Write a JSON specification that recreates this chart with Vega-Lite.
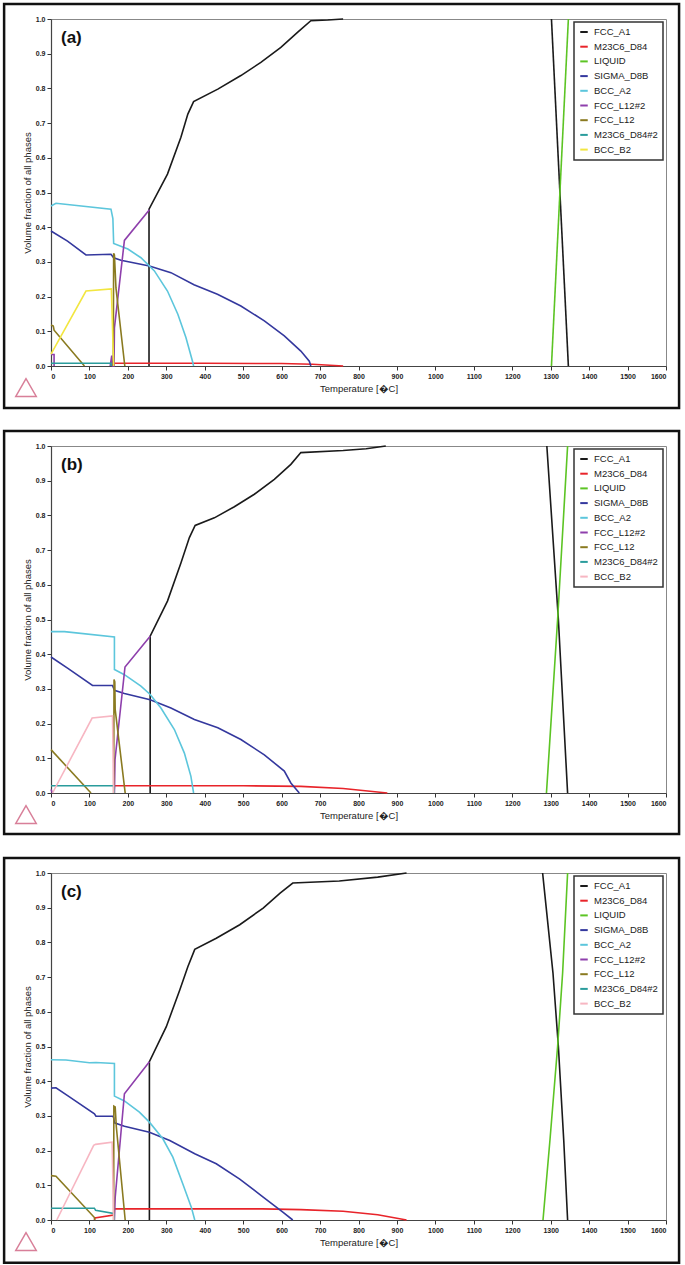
{
  "$schema": "https://vega.github.io/schema/vega-lite/v6.json",
  "padding": {"left": 2, "top": 2, "right": 2, "bottom": 2},
  "bounds": "flush",
  "spacing": 80,
  "background": "white",
  "config": {
    "font": "Liberation Sans",
    "view": {"stroke": "#888", "strokeWidth": 1},
    "axis": {"grid": false, "domainColor": "#444", "domainWidth": 1.2, "tickColor": "#333", "tickSize": 4, "labelFontSize": 7, "labelFontWeight": "bold", "labelColor": "#222", "titleFontSize": 9.5, "titleFontWeight": "normal", "titleColor": "#222", "labelPadding": 2},
    "legend": {"title": null, "orient": "top-right", "offset": 3, "padding": 5, "strokeColor": "#333", "strokeWidth": 1.5, "fillColor": "white", "symbolType": "stroke", "symbolStrokeWidth": 2, "symbolSize": 56, "labelFontSize": 9.5, "labelColor": "#222", "rowPadding": 4.7, "labelOffset": 5, "labelLimit": 200}
  },
  "resolve": {"scale": {"color": "independent"}, "legend": {"color": "independent"}},
  "datasets": {
    "a": [
      {"ph": "FCC_A1", "sg": 1, "T": 255, "f": 0}, {"ph": "FCC_A1", "sg": 1, "T": 255, "f": 0.452}, {"ph": "FCC_A1", "sg": 1, "T": 303, "f": 0.553}, {"ph": "FCC_A1", "sg": 1, "T": 338, "f": 0.659}, {"ph": "FCC_A1", "sg": 1, "T": 356, "f": 0.726}, {"ph": "FCC_A1", "sg": 1, "T": 371, "f": 0.762}, {"ph": "FCC_A1", "sg": 1, "T": 434, "f": 0.798}, {"ph": "FCC_A1", "sg": 1, "T": 494, "f": 0.837}, {"ph": "FCC_A1", "sg": 1, "T": 546, "f": 0.875}, {"ph": "FCC_A1", "sg": 1, "T": 598, "f": 0.918}, {"ph": "FCC_A1", "sg": 1, "T": 642, "f": 0.962}, {"ph": "FCC_A1", "sg": 1, "T": 676, "f": 0.995}, {"ph": "FCC_A1", "sg": 1, "T": 720, "f": 0.997}, {"ph": "FCC_A1", "sg": 1, "T": 760, "f": 1.0},
      {"ph": "FCC_A1", "sg": 2, "T": 1302, "f": 1.0}, {"ph": "FCC_A1", "sg": 2, "T": 1346, "f": 0},
      {"ph": "M23C6_D84", "sg": 1, "T": 163, "f": 0}, {"ph": "M23C6_D84", "sg": 1, "T": 164, "f": 0.008}, {"ph": "M23C6_D84", "sg": 1, "T": 400, "f": 0.008}, {"ph": "M23C6_D84", "sg": 1, "T": 600, "f": 0.007}, {"ph": "M23C6_D84", "sg": 1, "T": 680, "f": 0.005}, {"ph": "M23C6_D84", "sg": 1, "T": 760, "f": 0},
      {"ph": "LIQUID", "sg": 1, "T": 1302, "f": 0}, {"ph": "LIQUID", "sg": 1, "T": 1346, "f": 1.0},
      {"ph": "SIGMA_D8B", "sg": 1, "T": 0, "f": 0.389}, {"ph": "SIGMA_D8B", "sg": 1, "T": 43, "f": 0.36}, {"ph": "SIGMA_D8B", "sg": 1, "T": 91, "f": 0.32}, {"ph": "SIGMA_D8B", "sg": 1, "T": 156, "f": 0.322}, {"ph": "SIGMA_D8B", "sg": 1, "T": 163, "f": 0.312}, {"ph": "SIGMA_D8B", "sg": 1, "T": 182, "f": 0.305}, {"ph": "SIGMA_D8B", "sg": 1, "T": 256, "f": 0.288}, {"ph": "SIGMA_D8B", "sg": 1, "T": 312, "f": 0.269}, {"ph": "SIGMA_D8B", "sg": 1, "T": 372, "f": 0.234}, {"ph": "SIGMA_D8B", "sg": 1, "T": 433, "f": 0.207}, {"ph": "SIGMA_D8B", "sg": 1, "T": 494, "f": 0.173}, {"ph": "SIGMA_D8B", "sg": 1, "T": 555, "f": 0.13}, {"ph": "SIGMA_D8B", "sg": 1, "T": 607, "f": 0.087}, {"ph": "SIGMA_D8B", "sg": 1, "T": 650, "f": 0.043}, {"ph": "SIGMA_D8B", "sg": 1, "T": 672, "f": 0.014}, {"ph": "SIGMA_D8B", "sg": 1, "T": 676, "f": 0},
      {"ph": "BCC_A2", "sg": 1, "T": 0, "f": 0.461}, {"ph": "BCC_A2", "sg": 1, "T": 13, "f": 0.469}, {"ph": "BCC_A2", "sg": 1, "T": 156, "f": 0.452}, {"ph": "BCC_A2", "sg": 1, "T": 161, "f": 0.425}, {"ph": "BCC_A2", "sg": 1, "T": 163, "f": 0.353}, {"ph": "BCC_A2", "sg": 1, "T": 200, "f": 0.337}, {"ph": "BCC_A2", "sg": 1, "T": 234, "f": 0.312}, {"ph": "BCC_A2", "sg": 1, "T": 269, "f": 0.274}, {"ph": "BCC_A2", "sg": 1, "T": 303, "f": 0.216}, {"ph": "BCC_A2", "sg": 1, "T": 330, "f": 0.149}, {"ph": "BCC_A2", "sg": 1, "T": 351, "f": 0.082}, {"ph": "BCC_A2", "sg": 1, "T": 369, "f": 0.01}, {"ph": "BCC_A2", "sg": 1, "T": 371, "f": 0},
      {"ph": "FCC_L12#2", "sg": 1, "T": 0, "f": 0.033}, {"ph": "FCC_L12#2", "sg": 1, "T": 8, "f": 0.033}, {"ph": "FCC_L12#2", "sg": 1, "T": 8, "f": 0},
      {"ph": "FCC_L12#2", "sg": 2, "T": 154, "f": 0}, {"ph": "FCC_L12#2", "sg": 2, "T": 158, "f": 0.03}, {"ph": "FCC_L12#2", "sg": 2, "T": 160, "f": 0}, {"ph": "FCC_L12#2", "sg": 2, "T": 164, "f": 0}, {"ph": "FCC_L12#2", "sg": 2, "T": 165, "f": 0.11}, {"ph": "FCC_L12#2", "sg": 2, "T": 191, "f": 0.362}, {"ph": "FCC_L12#2", "sg": 2, "T": 256, "f": 0.45},
      {"ph": "FCC_L12", "sg": 1, "T": 0, "f": 0.118}, {"ph": "FCC_L12", "sg": 1, "T": 6, "f": 0.115}, {"ph": "FCC_L12", "sg": 1, "T": 8, "f": 0.103}, {"ph": "FCC_L12", "sg": 1, "T": 87, "f": 0},
      {"ph": "FCC_L12", "sg": 2, "T": 162, "f": 0}, {"ph": "FCC_L12", "sg": 2, "T": 163, "f": 0.325}, {"ph": "FCC_L12", "sg": 2, "T": 165, "f": 0.32}, {"ph": "FCC_L12", "sg": 2, "T": 169, "f": 0.225}, {"ph": "FCC_L12", "sg": 2, "T": 192, "f": 0},
      {"ph": "M23C6_D84#2", "sg": 1, "T": 0, "f": 0.008}, {"ph": "M23C6_D84#2", "sg": 1, "T": 156, "f": 0.008}, {"ph": "M23C6_D84#2", "sg": 1, "T": 157, "f": 0},
      {"ph": "BCC_B2", "sg": 1, "T": 0, "f": 0.034}, {"ph": "BCC_B2", "sg": 1, "T": 91, "f": 0.216}, {"ph": "BCC_B2", "sg": 1, "T": 157, "f": 0.222}, {"ph": "BCC_B2", "sg": 1, "T": 163, "f": 0}
    ],
    "b": [
      {"ph": "FCC_A1", "sg": 1, "T": 258, "f": 0}, {"ph": "FCC_A1", "sg": 1, "T": 258, "f": 0.452}, {"ph": "FCC_A1", "sg": 1, "T": 303, "f": 0.553}, {"ph": "FCC_A1", "sg": 1, "T": 338, "f": 0.663}, {"ph": "FCC_A1", "sg": 1, "T": 360, "f": 0.736}, {"ph": "FCC_A1", "sg": 1, "T": 375, "f": 0.771}, {"ph": "FCC_A1", "sg": 1, "T": 425, "f": 0.793}, {"ph": "FCC_A1", "sg": 1, "T": 477, "f": 0.825}, {"ph": "FCC_A1", "sg": 1, "T": 529, "f": 0.861}, {"ph": "FCC_A1", "sg": 1, "T": 581, "f": 0.904}, {"ph": "FCC_A1", "sg": 1, "T": 624, "f": 0.947}, {"ph": "FCC_A1", "sg": 1, "T": 650, "f": 0.981}, {"ph": "FCC_A1", "sg": 1, "T": 760, "f": 0.987}, {"ph": "FCC_A1", "sg": 1, "T": 820, "f": 0.992}, {"ph": "FCC_A1", "sg": 1, "T": 871, "f": 1.0},
      {"ph": "FCC_A1", "sg": 2, "T": 1290, "f": 1.0}, {"ph": "FCC_A1", "sg": 2, "T": 1320, "f": 0.5}, {"ph": "FCC_A1", "sg": 2, "T": 1344, "f": 0},
      {"ph": "M23C6_D84", "sg": 1, "T": 164, "f": 0}, {"ph": "M23C6_D84", "sg": 1, "T": 165, "f": 0.021}, {"ph": "M23C6_D84", "sg": 1, "T": 500, "f": 0.021}, {"ph": "M23C6_D84", "sg": 1, "T": 650, "f": 0.019}, {"ph": "M23C6_D84", "sg": 1, "T": 760, "f": 0.013}, {"ph": "M23C6_D84", "sg": 1, "T": 875, "f": 0},
      {"ph": "LIQUID", "sg": 1, "T": 1289, "f": 0}, {"ph": "LIQUID", "sg": 1, "T": 1318, "f": 0.5}, {"ph": "LIQUID", "sg": 1, "T": 1344, "f": 1.0},
      {"ph": "SIGMA_D8B", "sg": 1, "T": 0, "f": 0.392}, {"ph": "SIGMA_D8B", "sg": 1, "T": 43, "f": 0.36}, {"ph": "SIGMA_D8B", "sg": 1, "T": 108, "f": 0.31}, {"ph": "SIGMA_D8B", "sg": 1, "T": 160, "f": 0.31}, {"ph": "SIGMA_D8B", "sg": 1, "T": 165, "f": 0.296}, {"ph": "SIGMA_D8B", "sg": 1, "T": 191, "f": 0.287}, {"ph": "SIGMA_D8B", "sg": 1, "T": 258, "f": 0.269}, {"ph": "SIGMA_D8B", "sg": 1, "T": 312, "f": 0.245}, {"ph": "SIGMA_D8B", "sg": 1, "T": 373, "f": 0.212}, {"ph": "SIGMA_D8B", "sg": 1, "T": 434, "f": 0.188}, {"ph": "SIGMA_D8B", "sg": 1, "T": 494, "f": 0.154}, {"ph": "SIGMA_D8B", "sg": 1, "T": 555, "f": 0.11}, {"ph": "SIGMA_D8B", "sg": 1, "T": 607, "f": 0.063}, {"ph": "SIGMA_D8B", "sg": 1, "T": 624, "f": 0.029}, {"ph": "SIGMA_D8B", "sg": 1, "T": 646, "f": 0},
      {"ph": "BCC_A2", "sg": 1, "T": 0, "f": 0.465}, {"ph": "BCC_A2", "sg": 1, "T": 35, "f": 0.465}, {"ph": "BCC_A2", "sg": 1, "T": 165, "f": 0.45}, {"ph": "BCC_A2", "sg": 1, "T": 165, "f": 0.356}, {"ph": "BCC_A2", "sg": 1, "T": 191, "f": 0.341}, {"ph": "BCC_A2", "sg": 1, "T": 234, "f": 0.308}, {"ph": "BCC_A2", "sg": 1, "T": 258, "f": 0.284}, {"ph": "BCC_A2", "sg": 1, "T": 286, "f": 0.245}, {"ph": "BCC_A2", "sg": 1, "T": 321, "f": 0.183}, {"ph": "BCC_A2", "sg": 1, "T": 347, "f": 0.115}, {"ph": "BCC_A2", "sg": 1, "T": 364, "f": 0.048}, {"ph": "BCC_A2", "sg": 1, "T": 371, "f": 0},
      {"ph": "FCC_L12#2", "sg": 1, "T": 0, "f": 0.01}, {"ph": "FCC_L12#2", "sg": 1, "T": 4, "f": 0},
      {"ph": "FCC_L12#2", "sg": 2, "T": 165, "f": 0}, {"ph": "FCC_L12#2", "sg": 2, "T": 166.5, "f": 0.096}, {"ph": "FCC_L12#2", "sg": 2, "T": 192.5, "f": 0.363}, {"ph": "FCC_L12#2", "sg": 2, "T": 258, "f": 0.452},
      {"ph": "FCC_L12", "sg": 1, "T": 0, "f": 0.125}, {"ph": "FCC_L12", "sg": 1, "T": 104, "f": 0},
      {"ph": "FCC_L12", "sg": 2, "T": 163, "f": 0}, {"ph": "FCC_L12", "sg": 2, "T": 164, "f": 0.327}, {"ph": "FCC_L12", "sg": 2, "T": 166, "f": 0.32}, {"ph": "FCC_L12", "sg": 2, "T": 167, "f": 0.24}, {"ph": "FCC_L12", "sg": 2, "T": 193, "f": 0},
      {"ph": "M23C6_D84#2", "sg": 1, "T": 0, "f": 0.021}, {"ph": "M23C6_D84#2", "sg": 1, "T": 163, "f": 0.021}, {"ph": "M23C6_D84#2", "sg": 1, "T": 164, "f": 0},
      {"ph": "BCC_B2", "sg": 1, "T": 4, "f": 0}, {"ph": "BCC_B2", "sg": 1, "T": 107, "f": 0.216}, {"ph": "BCC_B2", "sg": 1, "T": 160, "f": 0.222}, {"ph": "BCC_B2", "sg": 1, "T": 163, "f": 0}
    ],
    "c": [
      {"ph": "FCC_A1", "sg": 1, "T": 256, "f": 0}, {"ph": "FCC_A1", "sg": 1, "T": 256, "f": 0.456}, {"ph": "FCC_A1", "sg": 1, "T": 300, "f": 0.557}, {"ph": "FCC_A1", "sg": 1, "T": 335, "f": 0.663}, {"ph": "FCC_A1", "sg": 1, "T": 356, "f": 0.73}, {"ph": "FCC_A1", "sg": 1, "T": 374, "f": 0.78}, {"ph": "FCC_A1", "sg": 1, "T": 430, "f": 0.812}, {"ph": "FCC_A1", "sg": 1, "T": 491, "f": 0.851}, {"ph": "FCC_A1", "sg": 1, "T": 552, "f": 0.899}, {"ph": "FCC_A1", "sg": 1, "T": 596, "f": 0.942}, {"ph": "FCC_A1", "sg": 1, "T": 629, "f": 0.971}, {"ph": "FCC_A1", "sg": 1, "T": 750, "f": 0.977}, {"ph": "FCC_A1", "sg": 1, "T": 850, "f": 0.988}, {"ph": "FCC_A1", "sg": 1, "T": 925, "f": 1.0},
      {"ph": "FCC_A1", "sg": 2, "T": 1279, "f": 1.0}, {"ph": "FCC_A1", "sg": 2, "T": 1288, "f": 0.904}, {"ph": "FCC_A1", "sg": 2, "T": 1306, "f": 0.711}, {"ph": "FCC_A1", "sg": 2, "T": 1320, "f": 0.5}, {"ph": "FCC_A1", "sg": 2, "T": 1334, "f": 0.229}, {"ph": "FCC_A1", "sg": 2, "T": 1344, "f": 0},
      {"ph": "M23C6_D84", "sg": 1, "T": 113, "f": 0}, {"ph": "M23C6_D84", "sg": 1, "T": 114, "f": 0.006}, {"ph": "M23C6_D84", "sg": 1, "T": 163, "f": 0.014}, {"ph": "M23C6_D84", "sg": 1, "T": 164, "f": 0.032}, {"ph": "M23C6_D84", "sg": 1, "T": 550, "f": 0.032}, {"ph": "M23C6_D84", "sg": 1, "T": 650, "f": 0.03}, {"ph": "M23C6_D84", "sg": 1, "T": 760, "f": 0.025}, {"ph": "M23C6_D84", "sg": 1, "T": 850, "f": 0.015}, {"ph": "M23C6_D84", "sg": 1, "T": 925, "f": 0},
      {"ph": "LIQUID", "sg": 1, "T": 1280, "f": 0}, {"ph": "LIQUID", "sg": 1, "T": 1298, "f": 0.229}, {"ph": "LIQUID", "sg": 1, "T": 1318, "f": 0.5}, {"ph": "LIQUID", "sg": 1, "T": 1331, "f": 0.711}, {"ph": "LIQUID", "sg": 1, "T": 1344, "f": 1.0},
      {"ph": "SIGMA_D8B", "sg": 1, "T": 0, "f": 0.38}, {"ph": "SIGMA_D8B", "sg": 1, "T": 13, "f": 0.381}, {"ph": "SIGMA_D8B", "sg": 1, "T": 48, "f": 0.355}, {"ph": "SIGMA_D8B", "sg": 1, "T": 113, "f": 0.306}, {"ph": "SIGMA_D8B", "sg": 1, "T": 117, "f": 0.299}, {"ph": "SIGMA_D8B", "sg": 1, "T": 161, "f": 0.299}, {"ph": "SIGMA_D8B", "sg": 1, "T": 163, "f": 0.295}, {"ph": "SIGMA_D8B", "sg": 1, "T": 165, "f": 0.28}, {"ph": "SIGMA_D8B", "sg": 1, "T": 191, "f": 0.27}, {"ph": "SIGMA_D8B", "sg": 1, "T": 256, "f": 0.253}, {"ph": "SIGMA_D8B", "sg": 1, "T": 309, "f": 0.229}, {"ph": "SIGMA_D8B", "sg": 1, "T": 374, "f": 0.191}, {"ph": "SIGMA_D8B", "sg": 1, "T": 430, "f": 0.162}, {"ph": "SIGMA_D8B", "sg": 1, "T": 491, "f": 0.118}, {"ph": "SIGMA_D8B", "sg": 1, "T": 552, "f": 0.066}, {"ph": "SIGMA_D8B", "sg": 1, "T": 604, "f": 0.022}, {"ph": "SIGMA_D8B", "sg": 1, "T": 629, "f": 0},
      {"ph": "BCC_A2", "sg": 1, "T": 0, "f": 0.462}, {"ph": "BCC_A2", "sg": 1, "T": 39, "f": 0.461}, {"ph": "BCC_A2", "sg": 1, "T": 100, "f": 0.453}, {"ph": "BCC_A2", "sg": 1, "T": 117, "f": 0.454}, {"ph": "BCC_A2", "sg": 1, "T": 165, "f": 0.451}, {"ph": "BCC_A2", "sg": 1, "T": 165, "f": 0.357}, {"ph": "BCC_A2", "sg": 1, "T": 191, "f": 0.343}, {"ph": "BCC_A2", "sg": 1, "T": 230, "f": 0.311}, {"ph": "BCC_A2", "sg": 1, "T": 256, "f": 0.282}, {"ph": "BCC_A2", "sg": 1, "T": 291, "f": 0.234}, {"ph": "BCC_A2", "sg": 1, "T": 317, "f": 0.181}, {"ph": "BCC_A2", "sg": 1, "T": 343, "f": 0.104}, {"ph": "BCC_A2", "sg": 1, "T": 365, "f": 0.037}, {"ph": "BCC_A2", "sg": 1, "T": 374, "f": 0},
      {"ph": "FCC_L12#2", "sg": 1, "T": 165, "f": 0}, {"ph": "FCC_L12#2", "sg": 1, "T": 167, "f": 0.065}, {"ph": "FCC_L12#2", "sg": 1, "T": 191, "f": 0.364}, {"ph": "FCC_L12#2", "sg": 1, "T": 256, "f": 0.456},
      {"ph": "FCC_L12", "sg": 1, "T": 0, "f": 0.128}, {"ph": "FCC_L12", "sg": 1, "T": 13, "f": 0.126}, {"ph": "FCC_L12", "sg": 1, "T": 113, "f": 0.007}, {"ph": "FCC_L12", "sg": 1, "T": 114, "f": 0},
      {"ph": "FCC_L12", "sg": 2, "T": 163, "f": 0}, {"ph": "FCC_L12", "sg": 2, "T": 163.5, "f": 0.328}, {"ph": "FCC_L12", "sg": 2, "T": 167, "f": 0.326}, {"ph": "FCC_L12", "sg": 2, "T": 170, "f": 0.268}, {"ph": "FCC_L12", "sg": 2, "T": 193, "f": 0},
      {"ph": "M23C6_D84#2", "sg": 1, "T": 0, "f": 0.034}, {"ph": "M23C6_D84#2", "sg": 1, "T": 113, "f": 0.034}, {"ph": "M23C6_D84#2", "sg": 1, "T": 116, "f": 0.028}, {"ph": "M23C6_D84#2", "sg": 1, "T": 163, "f": 0.019}, {"ph": "M23C6_D84#2", "sg": 1, "T": 164, "f": 0},
      {"ph": "BCC_B2", "sg": 1, "T": 15, "f": 0}, {"ph": "BCC_B2", "sg": 1, "T": 111, "f": 0.215}, {"ph": "BCC_B2", "sg": 1, "T": 116, "f": 0.218}, {"ph": "BCC_B2", "sg": 1, "T": 159, "f": 0.224}, {"ph": "BCC_B2", "sg": 1, "T": 163, "f": 0}
    ]
  },
  "vconcat": [
    {
      "width": 615, "height": 347,
      "layer": [
        {"data": {"name": "a"}, "mark": {"type": "line", "strokeWidth": 1.6},
         "encoding": {
           "x": {"field": "T", "type": "quantitative", "scale": {"domain": [0, 1600], "nice": false}, "axis": {"title": "Temperature [\uFFFDC]", "values": [0,100,200,300,400,500,600,700,800,900,1000,1100,1200,1300,1400,1500,1600], "format": "d", "titlePadding": 4}},
           "y": {"field": "f", "type": "quantitative", "scale": {"domain": [0, 1], "nice": false}, "axis": {"title": "Volume fraction of all phases", "values": [0,0.1,0.2,0.3,0.4,0.5,0.6,0.7,0.8,0.9,1.0], "format": ".1f", "titlePadding": 3}},
           "color": {"field": "ph", "type": "nominal", "scale": {"domain": ["FCC_A1","M23C6_D84","LIQUID","SIGMA_D8B","BCC_A2","FCC_L12#2","FCC_L12","M23C6_D84#2","BCC_B2"], "range": ["#1a1a1a","#e8242a","#5cc424","#34389e","#5cc6dc","#8e3fac","#8a7a20","#2a9c9c","#f2e640"]}, "legend": {"orient": "top-right"}},
           "detail": {"field": "sg"},
           "order": {"value": null}
         }},
        {"data": {"values": [{"k": 1}]}, "mark": {"type": "rect", "filled": false, "stroke": "#111", "strokeWidth": 2.5},
         "encoding": {"x": {"datum": -122, "type": "quantitative", "scale": {"domain": [0, 1600], "nice": false}, "axis": {"title": "Temperature [\uFFFDC]", "values": [0,100,200,300,400,500,600,700,800,900,1000,1100,1200,1300,1400,1500,1600], "format": "d", "titlePadding": 4}}, "x2": {"datum": 1634}, "y": {"datum": -0.121, "type": "quantitative", "scale": {"domain": [0, 1], "nice": false}, "axis": {"title": "Volume fraction of all phases", "values": [0,0.1,0.2,0.3,0.4,0.5,0.6,0.7,0.8,0.9,1.0], "format": ".1f", "titlePadding": 3}}, "y2": {"datum": 1.043}}},
        {"data": {"values": [{"k": 1}]}, "mark": {"type": "point", "shape": "triangle-up", "filled": false, "stroke": "#c84a6e", "strokeWidth": 1.5, "size": 420},
         "encoding": {"x": {"datum": -65, "type": "quantitative", "scale": {"domain": [0, 1600], "nice": false}, "axis": {"title": "Temperature [\uFFFDC]", "values": [0,100,200,300,400,500,600,700,800,900,1000,1100,1200,1300,1400,1500,1600], "format": "d", "titlePadding": 4}}, "y": {"datum": -0.062, "type": "quantitative", "scale": {"domain": [0, 1], "nice": false}, "axis": {"title": "Volume fraction of all phases", "values": [0,0.1,0.2,0.3,0.4,0.5,0.6,0.7,0.8,0.9,1.0], "format": ".1f", "titlePadding": 3}}}},
        {"data": {"values": [{"lab": "(a)"}]}, "mark": {"type": "text", "align": "left", "baseline": "middle", "fontSize": 17, "fontWeight": "bold", "color": "#111"},
         "encoding": {"x": {"datum": 26, "type": "quantitative", "scale": {"domain": [0, 1600], "nice": false}, "axis": {"title": "Temperature [\uFFFDC]", "values": [0,100,200,300,400,500,600,700,800,900,1000,1100,1200,1300,1400,1500,1600], "format": "d", "titlePadding": 4}}, "y": {"datum": 0.945, "type": "quantitative", "scale": {"domain": [0, 1], "nice": false}, "axis": {"title": "Volume fraction of all phases", "values": [0,0.1,0.2,0.3,0.4,0.5,0.6,0.7,0.8,0.9,1.0], "format": ".1f", "titlePadding": 3}}, "text": {"field": "lab"}}}
      ]
    },
    {
      "width": 615, "height": 347,
      "layer": [
        {"data": {"name": "b"}, "mark": {"type": "line", "strokeWidth": 1.6},
         "encoding": {
           "x": {"field": "T", "type": "quantitative", "scale": {"domain": [0, 1600], "nice": false}, "axis": {"title": "Temperature [\uFFFDC]", "values": [0,100,200,300,400,500,600,700,800,900,1000,1100,1200,1300,1400,1500,1600], "format": "d", "titlePadding": 4}},
           "y": {"field": "f", "type": "quantitative", "scale": {"domain": [0, 1], "nice": false}, "axis": {"title": "Volume fraction of all phases", "values": [0,0.1,0.2,0.3,0.4,0.5,0.6,0.7,0.8,0.9,1.0], "format": ".1f", "titlePadding": 3}},
           "color": {"field": "ph", "type": "nominal", "scale": {"domain": ["FCC_A1","M23C6_D84","LIQUID","SIGMA_D8B","BCC_A2","FCC_L12#2","FCC_L12","M23C6_D84#2","BCC_B2"], "range": ["#1a1a1a","#e8242a","#5cc424","#34389e","#5cc6dc","#8e3fac","#8a7a20","#2a9c9c","#f7b6c2"]}, "legend": {"orient": "top-right"}},
           "detail": {"field": "sg"},
           "order": {"value": null}
         }},
        {"data": {"values": [{"k": 1}]}, "mark": {"type": "rect", "filled": false, "stroke": "#111", "strokeWidth": 2.5},
         "encoding": {"x": {"datum": -122, "type": "quantitative", "scale": {"domain": [0, 1600], "nice": false}, "axis": {"title": "Temperature [\uFFFDC]", "values": [0,100,200,300,400,500,600,700,800,900,1000,1100,1200,1300,1400,1500,1600], "format": "d", "titlePadding": 4}}, "x2": {"datum": 1634}, "y": {"datum": -0.118, "type": "quantitative", "scale": {"domain": [0, 1], "nice": false}, "axis": {"title": "Volume fraction of all phases", "values": [0,0.1,0.2,0.3,0.4,0.5,0.6,0.7,0.8,0.9,1.0], "format": ".1f", "titlePadding": 3}}, "y2": {"datum": 1.043}}},
        {"data": {"values": [{"k": 1}]}, "mark": {"type": "point", "shape": "triangle-up", "filled": false, "stroke": "#c84a6e", "strokeWidth": 1.5, "size": 420},
         "encoding": {"x": {"datum": -65, "type": "quantitative", "scale": {"domain": [0, 1600], "nice": false}, "axis": {"title": "Temperature [\uFFFDC]", "values": [0,100,200,300,400,500,600,700,800,900,1000,1100,1200,1300,1400,1500,1600], "format": "d", "titlePadding": 4}}, "y": {"datum": -0.062, "type": "quantitative", "scale": {"domain": [0, 1], "nice": false}, "axis": {"title": "Volume fraction of all phases", "values": [0,0.1,0.2,0.3,0.4,0.5,0.6,0.7,0.8,0.9,1.0], "format": ".1f", "titlePadding": 3}}}},
        {"data": {"values": [{"lab": "(b)"}]}, "mark": {"type": "text", "align": "left", "baseline": "middle", "fontSize": 17, "fontWeight": "bold", "color": "#111"},
         "encoding": {"x": {"datum": 26, "type": "quantitative", "scale": {"domain": [0, 1600], "nice": false}, "axis": {"title": "Temperature [\uFFFDC]", "values": [0,100,200,300,400,500,600,700,800,900,1000,1100,1200,1300,1400,1500,1600], "format": "d", "titlePadding": 4}}, "y": {"datum": 0.945, "type": "quantitative", "scale": {"domain": [0, 1], "nice": false}, "axis": {"title": "Volume fraction of all phases", "values": [0,0.1,0.2,0.3,0.4,0.5,0.6,0.7,0.8,0.9,1.0], "format": ".1f", "titlePadding": 3}}, "text": {"field": "lab"}}}
      ]
    },
    {
      "width": 615, "height": 347,
      "layer": [
        {"data": {"name": "c"}, "mark": {"type": "line", "strokeWidth": 1.6},
         "encoding": {
           "x": {"field": "T", "type": "quantitative", "scale": {"domain": [0, 1600], "nice": false}, "axis": {"title": "Temperature [\uFFFDC]", "values": [0,100,200,300,400,500,600,700,800,900,1000,1100,1200,1300,1400,1500,1600], "format": "d", "titlePadding": 4}},
           "y": {"field": "f", "type": "quantitative", "scale": {"domain": [0, 1], "nice": false}, "axis": {"title": "Volume fraction of all phases", "values": [0,0.1,0.2,0.3,0.4,0.5,0.6,0.7,0.8,0.9,1.0], "format": ".1f", "titlePadding": 3}},
           "color": {"field": "ph", "type": "nominal", "scale": {"domain": ["FCC_A1","M23C6_D84","LIQUID","SIGMA_D8B","BCC_A2","FCC_L12#2","FCC_L12","M23C6_D84#2","BCC_B2"], "range": ["#1a1a1a","#e8242a","#5cc424","#34389e","#5cc6dc","#8e3fac","#8a7a20","#2a9c9c","#f7b6c2"]}, "legend": {"orient": "top-right"}},
           "detail": {"field": "sg"},
           "order": {"value": null}
         }},
        {"data": {"values": [{"k": 1}]}, "mark": {"type": "rect", "filled": false, "stroke": "#111", "strokeWidth": 2.5},
         "encoding": {"x": {"datum": -122, "type": "quantitative", "scale": {"domain": [0, 1600], "nice": false}, "axis": {"title": "Temperature [\uFFFDC]", "values": [0,100,200,300,400,500,600,700,800,900,1000,1100,1200,1300,1400,1500,1600], "format": "d", "titlePadding": 4}}, "x2": {"datum": 1634}, "y": {"datum": -0.123, "type": "quantitative", "scale": {"domain": [0, 1], "nice": false}, "axis": {"title": "Volume fraction of all phases", "values": [0,0.1,0.2,0.3,0.4,0.5,0.6,0.7,0.8,0.9,1.0], "format": ".1f", "titlePadding": 3}}, "y2": {"datum": 1.043}}},
        {"data": {"values": [{"k": 1}]}, "mark": {"type": "point", "shape": "triangle-up", "filled": false, "stroke": "#c84a6e", "strokeWidth": 1.5, "size": 420},
         "encoding": {"x": {"datum": -65, "type": "quantitative", "scale": {"domain": [0, 1600], "nice": false}, "axis": {"title": "Temperature [\uFFFDC]", "values": [0,100,200,300,400,500,600,700,800,900,1000,1100,1200,1300,1400,1500,1600], "format": "d", "titlePadding": 4}}, "y": {"datum": -0.062, "type": "quantitative", "scale": {"domain": [0, 1], "nice": false}, "axis": {"title": "Volume fraction of all phases", "values": [0,0.1,0.2,0.3,0.4,0.5,0.6,0.7,0.8,0.9,1.0], "format": ".1f", "titlePadding": 3}}}},
        {"data": {"values": [{"lab": "(c)"}]}, "mark": {"type": "text", "align": "left", "baseline": "middle", "fontSize": 17, "fontWeight": "bold", "color": "#111"},
         "encoding": {"x": {"datum": 26, "type": "quantitative", "scale": {"domain": [0, 1600], "nice": false}, "axis": {"title": "Temperature [\uFFFDC]", "values": [0,100,200,300,400,500,600,700,800,900,1000,1100,1200,1300,1400,1500,1600], "format": "d", "titlePadding": 4}}, "y": {"datum": 0.945, "type": "quantitative", "scale": {"domain": [0, 1], "nice": false}, "axis": {"title": "Volume fraction of all phases", "values": [0,0.1,0.2,0.3,0.4,0.5,0.6,0.7,0.8,0.9,1.0], "format": ".1f", "titlePadding": 3}}, "text": {"field": "lab"}}}
      ]
    }
  ]
}
